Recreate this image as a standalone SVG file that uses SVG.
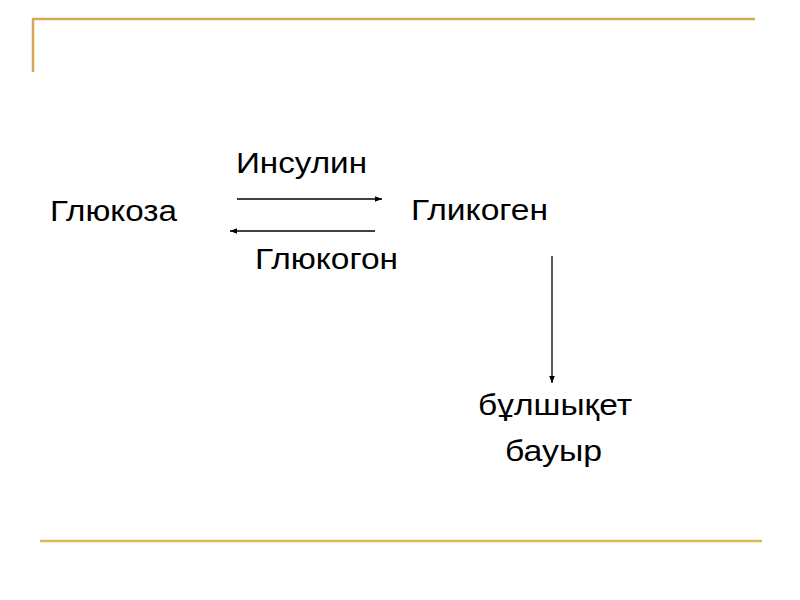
<svg xmlns="http://www.w3.org/2000/svg" width="800" height="600" viewBox="0 0 800 600">
<defs>
<style>
text{font-family:"Liberation Sans",Arial,sans-serif;font-size:30px;fill:#000}
.frame{stroke:#D3A954;stroke-width:2.5;fill:none}
.conn{stroke:#000;stroke-width:1.3;fill:none;marker-end:url(#ah)}
</style>
<marker id="ah" viewBox="0 0 10 10" refX="10" refY="5" markerWidth="7" markerHeight="7" markerUnits="userSpaceOnUse" orient="auto">
<path d="M0,1 L10,5 L0,9 z" fill="#000"/>
</marker>
</defs>
<rect width="800" height="600" fill="#fff"/>
<g id="frame">
<polyline class="frame" points="33,72 33,19 755,19"/>
<line x1="40" y1="541" x2="762" y2="541" stroke="#D4BA52" stroke-width="2.5"/>
</g>
<g id="connectors">
<line class="conn" x1="237" y1="199" x2="382" y2="199"/>
<line class="conn" x1="375" y1="231" x2="230" y2="231"/>
<line class="conn" x1="552" y1="256" x2="552" y2="383"/>
</g>
<g id="glucose"><text x="50" y="221" textLength="127" lengthAdjust="spacingAndGlyphs">Глюкоза</text></g>
<g id="glycogen"><text x="411" y="220" textLength="137" lengthAdjust="spacingAndGlyphs">Гликоген</text></g>
<g id="insulin"><text x="236" y="173" textLength="131" lengthAdjust="spacingAndGlyphs">Инсулин</text></g>
<g id="glucagon"><text x="255" y="269" textLength="143" lengthAdjust="spacingAndGlyphs">Глюкогон</text></g>
<g id="muscle"><text x="478" y="415" textLength="154" lengthAdjust="spacingAndGlyphs">бұлшықет</text></g>
<g id="liver"><text x="505" y="461" textLength="97" lengthAdjust="spacingAndGlyphs">бауыр</text></g>
</svg>
